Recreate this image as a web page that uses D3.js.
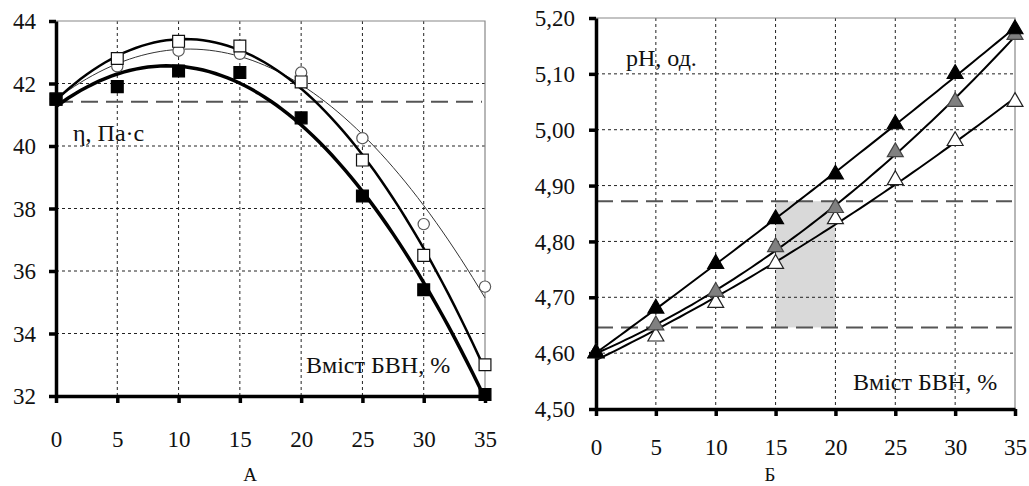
<!DOCTYPE html>
<html>
<head>
<meta charset="utf-8">
<script src="https://cdn.jsdelivr.net/npm/d3@7"></script>
</head>
<body style="margin:0">
<script>
// x values (content of BVN, %)
var content = [0, 5, 10, 15, 20, 25, 30, 35];

// panel A - viscosity, Pa*s
var viscFilled = [41.5, 41.9, 42.4, 42.35, 40.9, 38.4, 35.4, 32.05];
var viscOpen   = [41.5, 42.8, 43.35, 43.2, 42.05, 39.55, 36.5, 33.0];
var viscCircle = [41.5, 42.55, 43.05, 42.95, 42.35, 40.25, 37.5, 35.5];
var viscLimit = 41.42;
var viscTicks = [32, 34, 36, 38, 40, 42, 44];

// panel B - pH
var phBlack = [4.60, 4.68, 4.76, 4.84, 4.92, 5.01, 5.10, 5.18];
var phGray  = [4.60, 4.65, 4.71, 4.79, 4.86, 4.96, 5.05, 5.17];
var phWhite = [4.60, 4.63, 4.69, 4.76, 4.84, 4.91, 4.98, 5.05];
var phLimits = [4.646, 4.872];
var phBand = [15, 20];
var phTicks = [4.50, 4.60, 4.70, 4.80, 4.90, 5.00, 5.10, 5.20];

var xTicks = [0, 5, 10, 15, 20, 25, 30, 35];

var serif = "Liberation Serif";

var svg = d3.select("body").append("svg")
  .attr("width", 1029)
  .attr("height", 486);

svg.append("rect").attr("width", 1029).attr("height", 486).attr("fill", "#fff");

// least squares quadratic fit for the trend lines
function polyFit(xs, ys) {
  var n = 3, A = [], b = [];
  for (var i = 0; i < n; i++) {
    A.push([]);
    for (var j = 0; j < n; j++) A[i].push(d3.sum(xs, x => Math.pow(x, i + j)));
    b.push(d3.sum(xs, (x, k) => ys[k] * Math.pow(x, i)));
  }
  // gauss elimination
  for (var c = 0; c < n; c++) {
    for (var r = c + 1; r < n; r++) {
      var f = A[r][c] / A[c][c];
      for (var k = c; k < n; k++) A[r][k] -= f * A[c][k];
      b[r] -= f * b[c];
    }
  }
  var coef = [0, 0, 0];
  for (var r2 = n - 1; r2 >= 0; r2--) {
    var s = b[r2];
    for (var k2 = r2 + 1; k2 < n; k2++) s -= A[r2][k2] * coef[k2];
    coef[r2] = s / A[r2][r2];
  }
  return x => coef[0] + coef[1] * x + coef[2] * x * x;
}

function drawPanel(opt) {
  var g = svg.append("g");
  var x = d3.scaleLinear().domain([0, 35]).range([opt.left, opt.right]);
  var y = d3.scaleLinear().domain(opt.yDomain).range([opt.bottom, opt.top]);

  // shaded band
  if (opt.band) {
    g.append("rect")
      .attr("x", x(opt.band[0]))
      .attr("y", y(opt.limits[1]))
      .attr("width", x(opt.band[1]) - x(opt.band[0]))
      .attr("height", y(opt.limits[0]) - y(opt.limits[1]))
      .attr("fill", "#d9d9d9");
  }

  // grid
  g.selectAll(".vgrid").data(xTicks.slice(1, -1)).enter().append("line")
    .attr("x1", d => x(d)).attr("x2", d => x(d))
    .attr("y1", opt.top).attr("y2", opt.bottom)
    .attr("stroke", "#222").attr("stroke-width", 1).attr("stroke-dasharray", "3,3");
  g.selectAll(".hgrid").data(opt.yTicks.slice(1, -1)).enter().append("line")
    .attr("x1", opt.left).attr("x2", opt.right)
    .attr("y1", d => y(d)).attr("y2", d => y(d))
    .attr("stroke", "#222").attr("stroke-width", 1).attr("stroke-dasharray", "3,3");

  // plot border (top, right)
  g.append("path")
    .attr("d", `M${opt.left},${opt.top}H${opt.right}V${opt.bottom}`)
    .attr("fill", "none").attr("stroke", "#888").attr("stroke-width", 1.2);

  // dashed limits
  opt.limits.forEach(function(v) {
    g.append("line")
      .attr("x1", opt.left).attr("x2", opt.right - 3)
      .attr("y1", y(v)).attr("y2", y(v))
      .attr("stroke", "#555").attr("stroke-width", 2).attr("stroke-dasharray", "17,8");
  });

  // axes
  var xAxis = d3.axisBottom(x).tickValues(xTicks).tickSize(7).tickSizeOuter(0).tickFormat(d3.format("d"));
  var yAxis = d3.axisLeft(y).tickValues(opt.yTicks).tickSize(7).tickSizeOuter(0).tickFormat(opt.fmt);

  var gx = g.append("g").attr("transform", `translate(0,${opt.bottom})`).call(xAxis);
  var gy = g.append("g").attr("transform", `translate(${opt.left},0)`).call(yAxis);
  [gx, gy].forEach(function(a) {
    a.attr("font-family", null).attr("font-size", null);
    a.select(".domain").attr("stroke", "#000").attr("stroke-width", 3.5);
    a.selectAll(".tick line").attr("stroke", "#000").attr("stroke-width", 3.5);
    a.selectAll(".tick text").attr("fill", "#111").attr("font-size", 23);
  });
  gx.selectAll(".tick text").attr("dy", null).attr("y", opt.xLabelY);
  gy.selectAll(".tick text").attr("x", opt.yLabelX).attr("dy", "0.33em");

  // trend lines
  var xs = d3.range(0, 35.01, 0.5);
  var line = d3.line().x(d => x(d[0])).y(d => y(d[1]));
  opt.series.forEach(function(s) {
    var f = polyFit(content, s.values);
    g.append("path")
      .datum(xs.map(v => [v, f(v)]))
      .attr("d", line)
      .attr("fill", "none")
      .attr("stroke", s.lineColor)
      .attr("stroke-width", s.lineWidth);
  });

  // markers
  opt.series.forEach(function(s) {
    var sym = d3.symbol().type(s.shape).size(s.size);
    g.selectAll(null).data(content).enter().append("path")
      .attr("d", sym)
      .attr("transform", (d, i) => `translate(${x(d)},${y(s.values[i])})`)
      .attr("fill", s.fill)
      .attr("stroke", s.stroke)
      .attr("stroke-width", 1.2);
  });

  // labels
  opt.labels.forEach(function(l) {
    g.append("text").attr("x", l.x).attr("y", l.y)
      .attr("font-size", l.size).attr("text-anchor", l.anchor || "start")
      .attr("fill", "#111")
      .text(l.text);
  });
}

drawPanel({
  left: 56, right: 485, top: 21, bottom: 396,
  xLabelY: 51, yLabelX: -20,
  yDomain: [32, 44], yTicks: viscTicks, fmt: d3.format("d"),
  limits: [viscLimit],
  series: [
    { values: viscCircle, shape: d3.symbolCircle, size: 100, fill: "#fff", stroke: "#555", lineColor: "#333", lineWidth: 1 },
    { values: viscOpen, shape: d3.symbolSquare, size: 140, fill: "#fff", stroke: "#111", lineColor: "#000", lineWidth: 2.5 },
    { values: viscFilled, shape: d3.symbolSquare, size: 140, fill: "#000", stroke: "#000", lineColor: "#000", lineWidth: 3.5 }
  ],
  labels: [
    { x: 73, y: 141, size: 24, text: "η, Па·с" },
    { x: 306, y: 373, size: 24, text: "Вміст БВН, %" },
    { x: 250, y: 481, size: 19, text: "А", anchor: "middle" }
  ]
});

drawPanel({
  left: 596, right: 1015, top: 18, bottom: 409,
  xLabelY: 46, yLabelX: -21,
  yDomain: [4.5, 5.2], yTicks: phTicks, fmt: d => d3.format(".2f")(d).replace(".", ","),
  limits: phLimits, band: phBand,
  series: [
    { values: phWhite, shape: d3.symbolTriangle, size: 110, fill: "#fff", stroke: "#222", lineColor: "#000", lineWidth: 2 },
    { values: phGray, shape: d3.symbolTriangle, size: 110, fill: "#808080", stroke: "#444", lineColor: "#000", lineWidth: 2 },
    { values: phBlack, shape: d3.symbolTriangle, size: 110, fill: "#000", stroke: "#000", lineColor: "#000", lineWidth: 2 }
  ],
  labels: [
    { x: 626, y: 66, size: 24, text: "pH, од." },
    { x: 853, y: 390, size: 24, text: "Вміст БВН, %" },
    { x: 770, y: 481, size: 19, text: "Б", anchor: "middle" }
  ]
});

// every text in the serif face
svg.selectAll("text").attr("font-family", serif).style("font-family", serif);
</script>
</body>
</html>
